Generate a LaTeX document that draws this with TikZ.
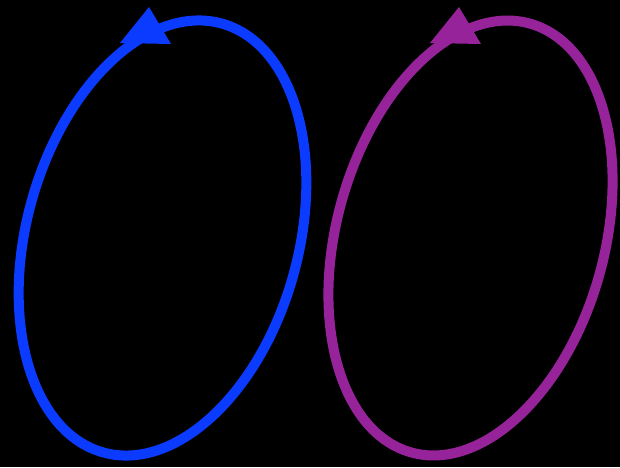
\documentclass[tikz,border=0pt]{standalone}
\usepackage{xcolor}
\usepackage{tikz}
\usetikzlibrary{arrows.meta, calc}
\definecolor{loopblue}{HTML}{0B3BFF}
\definecolor{looppurple}{HTML}{962399}
\tikzset{
    orbit/.style={line width=10pt},
    headtip/.style={fill, draw=none}
}
\begin{document}
\begin{tikzpicture}[x=1pt, y=1pt]
    % Background
    \useasboundingbox (0, 0) rectangle (620, 467);
    \fill[black] (0, 0) rectangle (620, 467);

    % Blue loop
    \draw[orbit, loopblue, rotate around={74.6:(162.5, 229)}]
        (162.5, 229) ellipse [x radius=222.5, y radius=136];
    \fill[headtip, loopblue] (149, 460) -- (120, 424) -- (171, 423) -- cycle;

    % Purple loop
    \draw[orbit, looppurple, rotate around={74.6:(470.5, 229)}]
        (470.5, 229) ellipse [x radius=222.5, y radius=134];
    \fill[headtip, looppurple] (459, 460) -- (430, 424) -- (481, 423) -- cycle;
\end{tikzpicture}
\end{document}
